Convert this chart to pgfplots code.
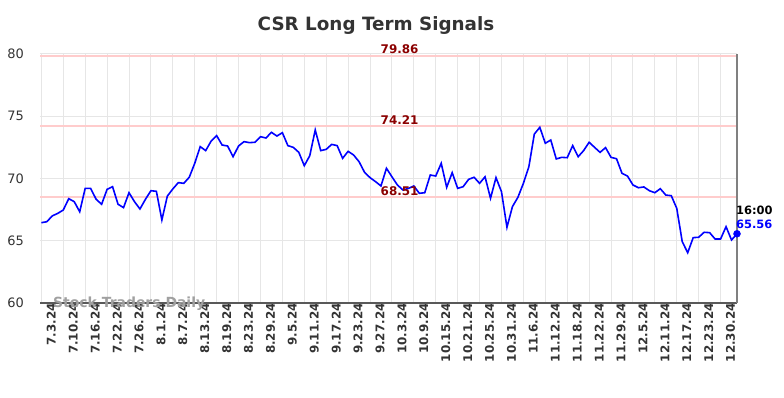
\documentclass[border=0pt]{standalone}
\usepackage{fontspec}
\setmainfont{DejaVu Sans}
\usepackage{pgfplots}
\pgfplotsset{compat=1.18}
\usepackage{pgfplotstable}
\definecolor{gridc}{HTML}{E6E6E6}
\definecolor{levc}{HTML}{FFCCCC}
\definecolor{levtxt}{HTML}{8B0000}
\definecolor{titlec}{HTML}{333333}
\definecolor{tickc}{HTML}{333333}
\definecolor{wmc}{HTML}{A0A0A0}

\pgfplotstableread{
idx val
0 66.45
1 66.53
2 67.00
3 67.20
4 67.47
5 68.38
6 68.14
7 67.33
8 69.21
9 69.20
10 68.33
11 67.93
12 69.13
13 69.34
14 67.93
15 67.66
16 68.86
17 68.14
18 67.55
19 68.33
20 69.02
21 68.97
22 66.67
23 68.59
24 69.16
25 69.67
26 69.61
27 70.10
28 71.22
29 72.56
30 72.24
31 73.01
32 73.44
33 72.69
34 72.61
35 71.75
36 72.61
37 72.96
38 72.88
39 72.91
40 73.36
41 73.25
42 73.71
43 73.41
44 73.68
45 72.64
46 72.50
47 72.10
48 71.03
49 71.83
50 73.90
51 72.24
52 72.34
53 72.74
54 72.64
55 71.62
56 72.18
57 71.89
58 71.35
59 70.50
60 70.07
61 69.75
62 69.40
63 70.82
64 70.14
65 69.48
66 69.08
67 69.20
68 69.40
69 68.81
70 68.86
71 70.28
72 70.20
73 71.22
74 69.29
75 70.47
76 69.21
77 69.34
78 69.93
79 70.10
80 69.61
81 70.14
82 68.41
83 70.07
84 68.94
85 66.08
86 67.74
87 68.49
88 69.61
89 70.95
90 73.57
91 74.11
92 72.83
93 73.09
94 71.57
95 71.70
96 71.67
97 72.64
98 71.75
99 72.24
100 72.91
101 72.50
102 72.10
103 72.48
104 71.70
105 71.59
106 70.42
107 70.20
108 69.48
109 69.26
110 69.32
111 69.02
112 68.86
113 69.18
114 68.67
115 68.62
116 67.60
117 64.93
118 64.04
119 65.25
120 65.28
121 65.68
122 65.65
123 65.14
124 65.14
125 66.13
126 65.06
127 65.56
}\pricedata

\begin{document}
\begin{tikzpicture}
\useasboundingbox (0bp,0bp) rectangle (784bp,398bp);
\node[font=\fontsize{18.4}{21}\selectfont\bfseries, text=titlec] at (376bp,372bp) {CSR Long Term Signals};
\begin{axis}[
  at={(40bp,95bp)}, anchor=south west,
  scale only axis, width=697bp, height=249bp,
  xmin=-0.25, xmax=127, ymin=60, ymax=80,
  clip=false,
  /pgf/number format/assume math mode=true,
  axis line style={draw=none},
  major tick length=0pt,
  xmajorgrids, ymajorgrids,
  grid style={color=gridc, line width=1bp},
  ytick={60,65,70,75,80},
  xtick={0,4,...,124},
  xticklabels={7.3.24,7.10.24,7.16.24,7.22.24,7.26.24,8.1.24,8.7.24,8.13.24,8.19.24,8.23.24,8.29.24,9.5.24,9.11.24,9.17.24,9.23.24,9.27.24,10.3.24,10.9.24,10.15.24,10.21.24,10.25.24,10.31.24,11.6.24,11.12.24,11.18.24,11.22.24,11.29.24,12.5.24,12.11.24,12.17.24,12.23.24,12.30.24},
  xticklabel style={rotate=90, anchor=east, inner sep=0pt, yshift=-10bp, font=\fontsize{12}{14}\selectfont\bfseries, text=tickc},
  yticklabel style={anchor=east, inner sep=0pt, xshift=-16bp, font=\fontsize{13}{15}\selectfont, text=tickc},
]
\addplot[draw=levc, line width=2bp] coordinates {(-0.25,79.86) (127,79.86)};
\addplot[draw=levc, line width=2bp] coordinates {(-0.25,74.21) (127,74.21)};
\addplot[draw=levc, line width=2bp] coordinates {(-0.25,68.51) (127,68.51)};
\draw[color=black!65, line width=1.2bp] (rel axis cs:0,0) -- (rel axis cs:1,0);
\draw[color=black!50, line width=2bp] (rel axis cs:1,0) -- (rel axis cs:1,1);
\node[anchor=west, font=\fontsize{14}{16}\selectfont\bfseries, text=wmc, inner sep=0pt] at (axis cs:2.1,59.95) {Stock Traders Daily};
\addplot[color=blue, line width=1.6bp, mark=none] table[x=idx, y=val] {\pricedata};
\addplot[color=blue, mark=*, mark size=3.5bp, only marks] coordinates {(127,65.56)};
\node[anchor=south, inner sep=1.5bp, font=\fontsize{12}{14}\selectfont\bfseries, text=levtxt] at (axis cs:65.4,79.86) {79.86};
\node[anchor=south, inner sep=1.5bp, font=\fontsize{12}{14}\selectfont\bfseries, text=levtxt] at (axis cs:65.4,74.21) {74.21};
\node[anchor=south, inner sep=1.5bp, font=\fontsize{12}{14}\selectfont\bfseries, text=levtxt] at (axis cs:65.4,68.51) {68.51};
\node[anchor=west, inner sep=0pt, font=\fontsize{11.5}{13}\selectfont\bfseries, text=black] at (axis cs:126.8,67.47) {16:00};
\node[anchor=west, inner sep=0pt, font=\fontsize{11.5}{13}\selectfont\bfseries, text=blue] at (axis cs:126.8,66.35) {65.56};
\end{axis}
\end{tikzpicture}
\end{document}
